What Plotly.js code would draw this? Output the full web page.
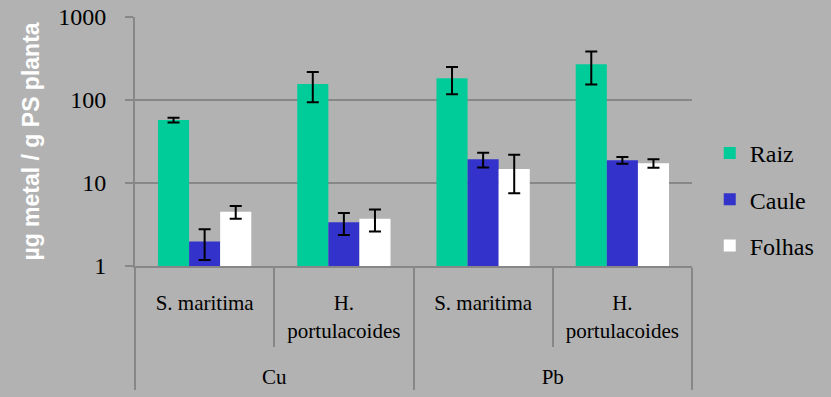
<!DOCTYPE html>
<html>
<head>
<meta charset="utf-8">
<script src="https://cdn.plot.ly/plotly-3.0.1.min.js"></script>
<style>
  html, body { margin: 0; padding: 0; background: #b2b2b2; }
  #chart { width: 831px; height: 397px; }
</style>
</head>
<body>
<div id="chart"></div>
<script>
// Metal (outer level) and species (inner level) for each group of bars.
// The trailing blank line on the two-line species name leaves room
// between the species row and the metal row.
const metals = ['Cu', 'Cu', 'Pb', 'Pb'];
const hPort = 'H.<br>portulacoides<br><span style="font-size:71px">&nbsp;</span>';
const species = ['S. maritima', hPort, 'S. maritima', hPort];

// Concentrations (µg metal / g dry weight) and their standard deviations
const raiz = [57.4, 156, 183, 269];
const raizErr = [3.7, 62, 66, 115];
const caule = [1.98, 3.36, 19.3, 18.8];
const cauleErr = [0.8, 1.0, 3.9, 1.7];
const folhas = [4.5, 3.7, 14.7, 17.3];
const folhasErr = [0.8, 1.1, 7.2, 2.0];

const seriesNames = ['Raiz', 'Caule', 'Folhas'];
const seriesColors = ['#00cc99', '#3333cc', '#ffffff'];
const seriesValues = [raiz, caule, folhas];
const seriesErrors = [raizErr, cauleErr, folhasErr];

const gridGray = '#878787';
const serif = 'Liberation Serif, Times New Roman, serif';

const traces = seriesNames.map((name, i) => ({
  type: 'bar',
  name: name,
  legendgroup: name,
  x: [metals, species],
  y: seriesValues[i],
  marker: { color: seriesColors[i], line: { width: 0 } },
  error_y: {
    type: 'data',
    array: seriesErrors[i],
    visible: true,
    color: '#000000',
    thickness: 2,
    width: 6
  }
}));

const layout = {
  width: 831,
  height: 397,
  font: { family: serif, size: 21, color: '#000000' },
  paper_bgcolor: '#b2b2b2',
  plot_bgcolor: '#b2b2b2',
  margin: { l: 135, r: 138, t: 17, b: 131, pad: 0 },
  barmode: 'group',
  bargap: 0.33,
  bargroupgap: 0,
  showlegend: true,
  legend: {
    x: 1.03,
    xanchor: 'left',
    y: 0.267,
    yanchor: 'middle',
    traceorder: 'grouped',
    tracegroupgap: 12,
    bgcolor: 'rgba(0,0,0,0)',
    font: { family: serif, size: 24, color: '#000000' }
  },
  xaxis: {
    type: 'multicategory',
    showline: true,
    linecolor: gridGray,
    linewidth: 2,
    ticks: 'outside',
    ticklen: 79,
    tickwidth: 2,
    tickcolor: gridGray,
    ticklabelstandoff: 17,
    showdividers: true,
    dividercolor: gridGray,
    dividerwidth: 2,
    showgrid: false,
    tickfont: { family: serif, size: 21, color: '#000000' }
  },
  yaxis: {
    type: 'log',
    range: [0, 3],
    tickvals: [1, 10, 100, 1000],
    ticktext: ['1', '10', '100', '1000'],
    showline: true,
    linecolor: gridGray,
    linewidth: 2,
    ticks: 'outside',
    ticklen: 8,
    tickwidth: 2,
    tickcolor: gridGray,
    ticklabelstandoff: 14,
    showgrid: true,
    gridcolor: gridGray,
    gridwidth: 2,
    zeroline: false,
    tickfont: { family: serif, size: 24, color: '#000000' },
    title: {
      text: 'µg metal / g PS planta',
      standoff: 12,
      font: { family: 'Liberation Sans, Arial, sans-serif', size: 23, color: '#ffffff', weight: 'bold' }
    }
  }
};

Plotly.newPlot('chart', traces, layout, { staticPlot: true, displayModeBar: false });
</script>
</body>
</html>
